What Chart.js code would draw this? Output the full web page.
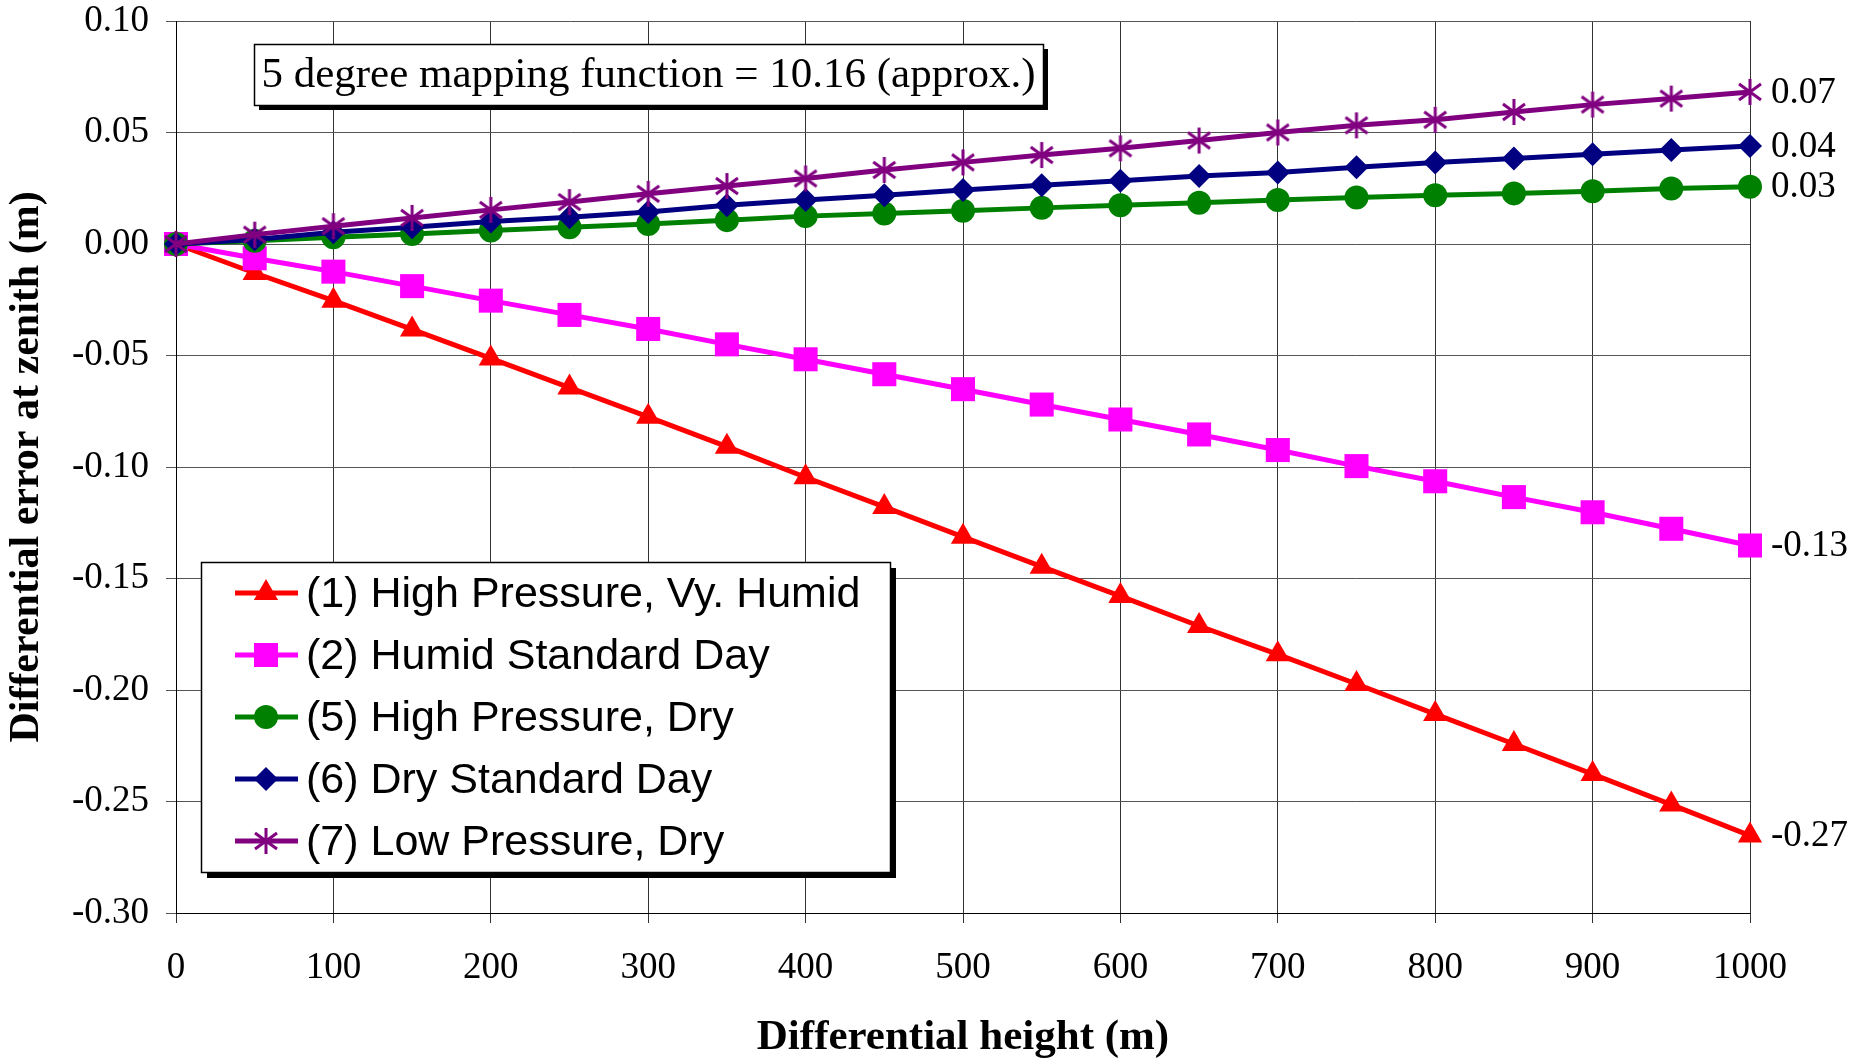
<!DOCTYPE html>
<html>
<head>
<meta charset="utf-8">
<script src="https://cdn.jsdelivr.net/npm/chart.js@4.4.0/dist/chart.umd.min.js"></script>
<style>
  html, body { margin: 0; padding: 0; background: #fff; }
  #grafico { display: block; }
</style>
</head>
<body>
<canvas id="grafico" width="1866" height="1059"></canvas>
<script>
// Dados
const alturas = [0, 50, 100, 150, 200, 250, 300, 350, 400, 450, 500, 550, 600, 650, 700, 750, 800, 850, 900, 950, 1000];
const serie1 = [0, -0.0130, -0.0254, -0.0383, -0.0513, -0.0644, -0.0775, -0.0909, -0.1046, -0.1179, -0.1313, -0.1447, -0.1579, -0.1713, -0.1840, -0.1973, -0.2108, -0.2242, -0.2377, -0.2514, -0.2653];
const serie2 = [0, -0.0064, -0.0124, -0.0189, -0.0254, -0.0318, -0.0381, -0.0450, -0.0517, -0.0584, -0.0651, -0.0720, -0.0787, -0.0854, -0.0924, -0.0996, -0.1064, -0.1135, -0.1203, -0.1277, -0.1352];
const serie5 = [0, 0.0015, 0.0030, 0.0045, 0.0060, 0.0075, 0.0090, 0.0107, 0.0125, 0.0137, 0.0149, 0.0162, 0.0174, 0.0185, 0.0197, 0.0209, 0.0219, 0.0227, 0.0237, 0.0249, 0.0257];
const serie6 = [0, 0.0020, 0.0053, 0.0075, 0.0101, 0.0120, 0.0143, 0.0174, 0.0197, 0.0219, 0.0242, 0.0263, 0.0284, 0.0305, 0.0321, 0.0344, 0.0365, 0.0383, 0.0402, 0.0422, 0.0440];
const serie7 = [0, 0.0042, 0.0080, 0.0117, 0.0153, 0.0188, 0.0225, 0.0260, 0.0294, 0.0332, 0.0366, 0.0399, 0.0429, 0.0464, 0.0500, 0.0532, 0.0557, 0.0592, 0.0625, 0.0652, 0.0682];
const nomes = ['(1) High Pressure, Vy. Humid', '(2) Humid Standard Day', '(5) High Pressure, Dry', '(6) Dry Standard Day', '(7) Low Pressure, Dry'];
const rotulosFinais = ['-0.27', '-0.13', '0.03', '0.04', '0.07'];
const textoCaixa = '5 degree mapping function = 10.16 (approx.)';

const SERIF = '"Liberation Serif", "Times New Roman", serif';
const SANS = '"Liberation Sans", Arial, sans-serif';

// marcador asterisco (estilo Excel)
function criarAsterisco(cor) {
  const c = document.createElement('canvas');
  c.width = 28; c.height = 28;
  const g = c.getContext('2d');
  g.strokeStyle = cor;
  g.lineWidth = 3;
  g.beginPath();
  g.moveTo(14, 1); g.lineTo(14, 27);
  g.moveTo(3, 6); g.lineTo(25, 22);
  g.moveTo(3, 22); g.lineTo(25, 6);
  g.stroke();
  return c;
}

function pontos(valores) {
  return alturas.map((h, i) => ({ x: h, y: valores[i] }));
}

function serie(nome, valores, cor, estilo, raio, ordem, rotulo) {
  return {
    label: nome,
    data: pontos(valores),
    borderColor: cor,
    backgroundColor: cor,
    borderWidth: 5,
    pointStyle: estilo,
    pointRadius: raio,
    pointHoverRadius: raio,
    pointBorderWidth: 0,
    tension: 0,
    clip: false,
    order: ordem,
    rotulo: rotulo
  };
}

const datasets = [
  serie(nomes[0], serie1, '#FF0000', 'triangle', 14, 5, rotulosFinais[0]),
  serie(nomes[1], serie2, '#FF00FF', 'rect', 17, 4, rotulosFinais[1]),
  serie(nomes[2], serie5, '#008000', 'circle', 12, 3, rotulosFinais[2]),
  serie(nomes[3], serie6, '#000080', 'rectRot', 12, 2, rotulosFinais[3]),
  serie(nomes[4], serie7, '#800080', criarAsterisco('#800080'), 14, 1, rotulosFinais[4])
];

function caixaSombra(ctx, x, y, w, h, s) {
  ctx.fillStyle = '#000';
  ctx.fillRect(x + s, y + s, w, h);
  ctx.fillStyle = '#fff';
  ctx.fillRect(x, y, w, h);
  ctx.strokeStyle = '#000';
  ctx.lineWidth = 1.5;
  ctx.strokeRect(x + 0.5, y + 0.5, w, h);
}

const extras = {
  id: 'extras',
  afterDatasetsDraw(chart) {
    const ctx = chart.ctx;
    ctx.save();

    // rótulos no fim das séries
    ctx.font = '37px ' + SERIF;
    ctx.fillStyle = '#000';
    ctx.textBaseline = 'middle';
    ctx.textAlign = 'left';
    chart.data.datasets.forEach((ds, i) => {
      const meta = chart.getDatasetMeta(i);
      const p = meta.data[meta.data.length - 1];
      ctx.fillText(ds.rotulo, p.x + 21, p.y + 1);
    });

    // caixa de texto
    caixaSombra(ctx, 254, 44, 789, 61, 5);
    ctx.fillStyle = '#000';
    ctx.font = '43px ' + SERIF;
    ctx.textAlign = 'center';
    ctx.fillText(textoCaixa, 254 + 789 / 2, 44 + 32);

    // legenda
    caixaSombra(ctx, 201, 562, 689, 310, 6);
    ctx.textAlign = 'left';
    ctx.font = '43px ' + SANS;
    chart.data.datasets.forEach((ds, i) => {
      const y = 593 + i * 62;
      ctx.strokeStyle = ds.borderColor;
      ctx.lineWidth = 5;
      ctx.beginPath();
      ctx.moveTo(235, y);
      ctx.lineTo(298, y);
      ctx.stroke();
      ctx.fillStyle = ds.backgroundColor;
      Chart.helpers.drawPoint(ctx, {
        pointStyle: ds.pointStyle,
        radius: ds.pointRadius,
        rotation: 0,
        borderWidth: 0
      }, 266, y);
      ctx.fillStyle = '#000';
      ctx.fillText(ds.label, 306, y + 2);
    });
    ctx.restore();
  }
};

new Chart(document.getElementById('grafico'), {
  type: 'line',
  data: { datasets: datasets },
  plugins: [extras],
  options: {
    responsive: false,
    animation: false,
    devicePixelRatio: 1,
    layout: { padding: { top: 21, right: 116, left: 0, bottom: 0 } },
    plugins: {
      legend: { display: false },
      tooltip: { enabled: false }
    },
    scales: {
      x: {
        type: 'linear',
        min: 0,
        max: 1000,
        afterFit: s => { s.height = 146; s.paddingLeft = 0; s.paddingRight = 0; },
        ticks: {
          stepSize: 100,
          color: '#000',
          padding: 23,
          maxRotation: 0,
          font: { family: SERIF, size: 37 },
          callback: v => String(v)
        },
        grid: { color: '#333', lineWidth: 1, tickLength: 10 },
        border: { color: '#000', width: 1 },
        title: {
          display: true,
          text: 'Differential height (m)',
          color: '#000',
          padding: { top: 0, bottom: 0 },
          font: { family: SERIF, size: 43, weight: 'bold', lineHeight: 1 }
        }
      },
      y: {
        min: -0.30,
        max: 0.10,
        afterFit: s => { s.width = 176; s.paddingTop = 0; s.paddingBottom = 0; },
        ticks: {
          stepSize: 0.05,
          color: '#000',
          padding: 17,
          font: { family: SERIF, size: 37 },
          callback: v => v.toFixed(2)
        },
        grid: { color: '#555', lineWidth: 1, tickLength: 10 },
        border: { color: '#000', width: 1 },
        title: {
          display: true,
          text: 'Differential error at zenith (m)',
          color: '#000',
          padding: { top: 2, bottom: 0 },
          font: { family: SERIF, size: 42, weight: 'bold' }
        }
      }
    }
  }
});
</script>
</body>
</html>
